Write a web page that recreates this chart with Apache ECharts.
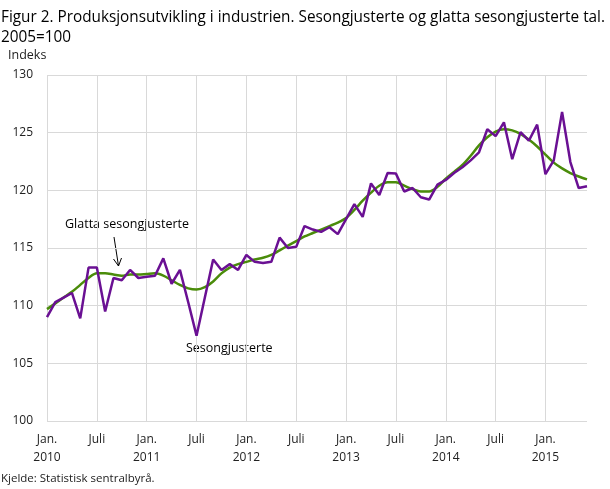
<!DOCTYPE html>
<html><head><meta charset="utf-8">
<script src="https://cdn.jsdelivr.net/npm/echarts@6/dist/echarts.min.js"></script>
<style>html,body{margin:0;padding:0;background:#fff}#c{width:610px;height:489px}</style>
</head><body><div id="c"></div>
<script>
const months = [];
for (let y = 2010; y <= 2015; y++) for (let m = 0; m < 12; m++) months.push(y + '-' + (m + 1));
const categories = months.slice(0, 66);
const sesongjusterte = [
  109.0,110.3,110.7,111.1,108.9,113.3,113.3,109.5,112.4,112.2,113.1,112.4,
  112.5,112.6,114.1,111.9,113.1,110.3,107.4,110.7,114.0,113.1,113.6,113.1,
  114.4,113.8,113.7,113.8,115.9,115.0,115.1,116.9,116.6,116.4,116.8,116.2,
  117.5,118.8,117.7,120.6,119.6,121.5,121.45,119.9,120.2,119.4,119.2,120.5,
  120.9,121.5,122.0,122.6,123.3,125.3,124.7,125.9,122.7,125.05,124.3,125.7,
  121.4,122.6,126.8,122.45,120.2,120.35
];
const glatta = [
  109.7,110.2,110.7,111.2,111.8,112.4,112.8,112.8,112.7,112.6,112.7,112.7,
  112.75,112.8,112.6,112.2,111.8,111.5,111.4,111.6,112.1,112.8,113.3,113.6,
  113.8,114.0,114.15,114.4,114.8,115.2,115.6,116.0,116.3,116.6,116.9,117.2,
  117.6,118.3,119.1,119.8,120.4,120.7,120.7,120.4,120.1,119.9,119.9,120.3,
  121.0,121.6,122.2,123.0,123.9,124.6,125.1,125.3,125.2,124.9,124.4,123.8,
  123.1,122.4,121.9,121.5,121.2,120.95
];
const yTicks = { min: 100, max: 130, interval: 5 };
const title1 = 'Figur 2. Produksjonsutvikling i industrien. Sesongjusterte og glatta sesongjusterte tal.';
const title2 = '2005=100';
const yName = 'Indeks';
const source = 'Kjelde: Statistisk sentralbyrå.';

const TFONT = '16px "Open Sans"';
const ctx = document.createElement('canvas').getContext('2d');
ctx.font = TFONT;
const titleScale = Math.min(1, 604 / ctx.measureText(title1).width);

const chart = echarts.init(document.getElementById('c'), null, { renderer: 'canvas' });
const FONT = 'Open Sans';
const show6 = (i) => i % 6 === 0;
chart.setOption({
  animation: false,
  grid: { left: 47, right: 23, top: 75, bottom: 68, containLabel: false },
  graphic: [
    { type: 'text', x: 1, y: 9, scaleX: titleScale, style: { text: title1, font: TFONT, fill: '#000' } },
    { type: 'text', x: 1, y: 29, scaleX: titleScale, style: { text: title2, font: TFONT, fill: '#000' } },
    { type: 'text', left: 8, top: 49, style: { text: yName, font: '12.5px "Open Sans"', fill: '#222' } },
    { type: 'text', left: 1, top: 473, style: { text: source, font: '11.5px "Open Sans"', fill: '#222' } },
    { type: 'text', left: 65, top: 218, style: { text: 'Glatta sesongjusterte', font: '12.5px "Open Sans"', fill: '#000' } },
    { type: 'text', left: 186, top: 342, style: { text: 'Sesongjusterte', font: '12.5px "Open Sans"', fill: '#000' } },
    { type: 'line', shape: { x1: 114, y1: 237, x2: 118.5, y2: 266 }, style: { stroke: '#000', lineWidth: 1 } },
    { type: 'polyline', shape: { points: [[113.5, 259], [118.5, 266], [121.5, 258]] }, style: { stroke: '#000', lineWidth: 1, fill: null } }
  ],
  xAxis: {
    type: 'category',
    data: categories,
    boundaryGap: false,
    axisLine: { show: false },
    axisTick: { show: false },
    splitLine: { show: true, interval: (i) => show6(i), lineStyle: { color: '#d9d9d9', width: 1 } },
    axisLabel: {
      interval: (i) => show6(i),
      margin: 10,
      lineHeight: 18,
      fontFamily: FONT, fontSize: 12, color: '#222',
      formatter: (v, i) => {
        const [y, m] = v.split('-').map(Number);
        if (m === 1) return 'Jan.\n' + y;
        if (m === 7) return 'Juli';
        return '';
      }
    }
  },
  yAxis: {
    type: 'value',
    min: yTicks.min, max: yTicks.max, interval: yTicks.interval,
    axisLine: { show: false },
    axisTick: { show: false },
    splitLine: { lineStyle: { color: '#d9d9d9', width: 1 } },
    axisLabel: { fontFamily: FONT, fontSize: 12, color: '#222', margin: 14 }
  },
  series: [
    { name: 'Glatta sesongjusterte', type: 'line', data: glatta, showSymbol: false, smooth: 0.3,
      lineStyle: { color: '#4a8c0a', width: 2.5 }, z: 2 },
    { name: 'Sesongjusterte', type: 'line', data: sesongjusterte, showSymbol: false,
      lineStyle: { color: '#6a1093', width: 2.5 }, z: 3 }
  ]
});
</script></body></html>
